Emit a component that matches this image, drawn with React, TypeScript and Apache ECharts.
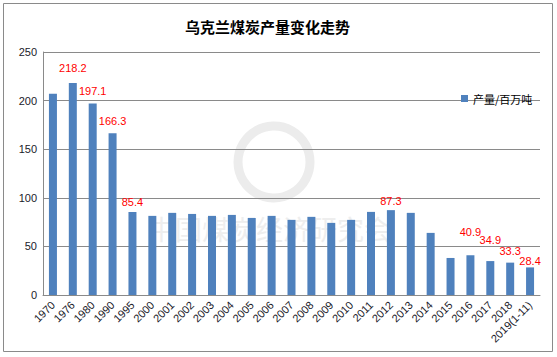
import React, { useEffect, useRef } from "react";
import * as echarts from "echarts";

const title = "乌克兰煤炭产量变化走势";
const seriesName = "产量/百万吨";
const categories = [
  "1970", "1976", "1980", "1990", "1995", "2000", "2001", "2002", "2003", "2004",
  "2005", "2006", "2007", "2008", "2009", "2010", "2011", "2012", "2013", "2014",
  "2015", "2016", "2017", "2018", "2019(1-11)",
];
const values = [
  207.1, 218.2, 197.1, 166.3, 85.4, 81.4, 84.5, 83.4, 81.4, 82.4,
  79.3, 81.4, 77.3, 80.4, 74.2, 77.3, 85.5, 87.3, 84.5, 63.9,
  38.1, 40.9, 34.9, 33.3, 28.4,
];
// which bars carry a red value label
const labelled = ["1976", "1980", "1990", "1995", "2012", "2016", "2017", "2018", "2019(1-11)"];
const yTicks = [0, 50, 100, 150, 200, 250];

// label distances above bar (style only)
const labelDistance: Record<string, number> = {
  "1976": 9, "1980": 7, "1990": 7, "1995": 4, "2012": 4,
  "2016": 18, "2017": 16, "2018": 6, "2019(1-11)": 1,
};

export default function App() {
  const ref = useRef<HTMLDivElement>(null);
  useEffect(() => {
    if (!ref.current) return;
    const chart = echarts.init(ref.current, null, { renderer: "svg" });
    const data = values.map((v, i) => {
      const c = categories[i];
      const show = labelled.includes(c);
      return {
        value: v,
        label: {
          show,
          position: "top",
          distance: labelDistance[c] ?? 5,
          color: "#ff0000",
          fontSize: 11,
          fontFamily: "Liberation Sans, Arial, sans-serif",
        },
      };
    });
    chart.setOption({
      animation: false,
      backgroundColor: "#ffffff",
      title: {
        text: title,
        left: 180,
        top: 14,
        textStyle: {
          fontSize: 15,
          fontWeight: "bold",
          color: "#000",
          fontFamily: "Noto Sans CJK SC",
        },
      },
      graphic: [
        {
          type: "rect",
          shape: { x: 3.5, y: 3.5, width: 549, height: 348 },
          style: { fill: "none", stroke: "#8a8a8a", lineWidth: 1 },
          z: 0,
        },
        {
          type: "circle",
          shape: { cx: 274, cy: 162, r: 36 },
          style: { fill: "none", stroke: "#ececec", lineWidth: 9 },
          z: 0,
        },
        {
          type: "text",
          x: 148,
          y: 215,
          style: {
            text: "中国煤炭经济研究会",
            fontSize: 27,
            fill: "#eeeeee",
            fontFamily: "Noto Sans CJK SC",
            textVerticalAlign: "top",
          },
          z: 0,
        },
      ],
      legend: {
        data: [seriesName],
        left: 456,
        top: 88,
        itemWidth: 7,
        itemHeight: 7,
        itemGap: 4,
        textStyle: { fontSize: 11, color: "#000", fontFamily: "Noto Sans CJK SC" },
        icon: "rect",
      },
      grid: { left: 43, right: 17, top: 52, bottom: 62, containLabel: false },
      xAxis: {
        type: "category",
        data: categories,
        axisLine: { lineStyle: { color: "#8a8a8a" } },
        axisTick: { show: false },
        axisLabel: {
          rotate: 45,
          interval: 0,
          fontSize: 11,
          color: "#1a1a2a",
          margin: 8,
          fontFamily: "Liberation Sans, Arial, sans-serif",
        },
      },
      yAxis: {
        type: "value",
        min: 0,
        max: 250,
        interval: 50,
        axisLine: { show: true, lineStyle: { color: "#8a8a8a" } },
        axisTick: { show: false },
        splitLine: { lineStyle: { color: "#8a8a8a", width: 1 } },
        axisLabel: {
          fontSize: 11,
          color: "#1a1a2a",
          margin: 6,
          fontFamily: "Liberation Sans, Arial, sans-serif",
          formatter: (v: number) => (yTicks.includes(v) ? String(v) : ""),
        },
      },
      series: [
        {
          name: seriesName,
          type: "bar",
          data,
          barWidth: 8,
          itemStyle: { color: "#4f81bd" },
        },
      ],
    });
    return () => chart.dispose();
  }, []);
  return <div ref={ref} style={{ width: 557, height: 357, position: "absolute", left: 0, top: 0 }} />;
}
